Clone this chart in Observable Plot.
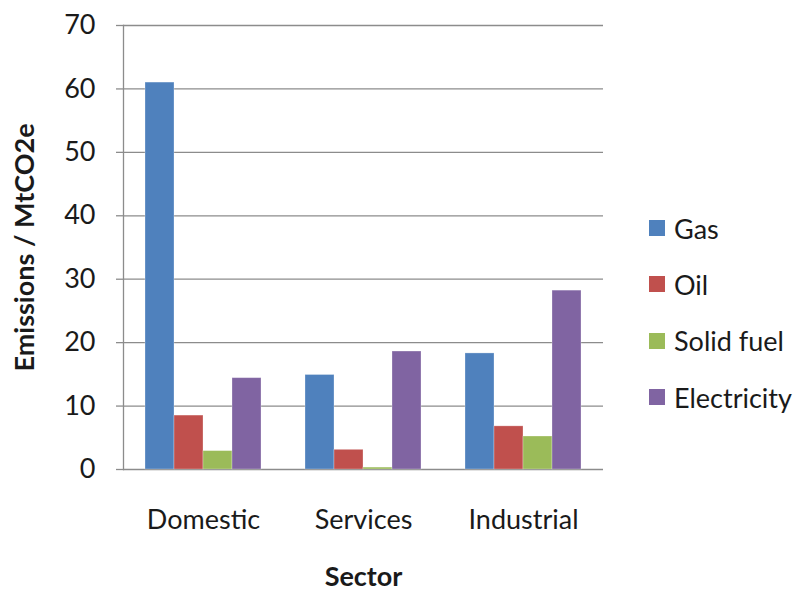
<!DOCTYPE html>
<html>
<head>
<meta charset="utf-8">
<script src="https://cdn.jsdelivr.net/npm/d3@7"></script>
<script src="https://cdn.jsdelivr.net/npm/@observablehq/plot@0.6"></script>
<style>
  html, body { margin: 0; padding: 0; background: #fff; }
  #wrap { position: relative; width: 795px; height: 593px; overflow: hidden; font-family: Lato, "Open Sans", sans-serif; }
  #legend { position: absolute; left: 649px; top: 200px; }
  .item { display: flex; align-items: center; height: 56.3px; font-size: 27px; color: #1a1a1a; white-space: nowrap; }
  .sw { width: 16px; height: 16px; margin-right: 9px; flex: none; }
</style>
</head>
<body>
<div id="wrap"></div>
<script>
const sectors = ["Domestic", "Services", "Industrial"];
const fuels = ["Gas", "Oil", "Solid fuel", "Electricity"];
const gas = [61.0, 14.9, 18.3];
const oil = [8.5, 3.1, 6.8];
const solidFuel = [2.9, 0.3, 5.2];
const electricity = [14.4, 18.6, 28.2];
const colors = ["#4F81BD", "#C0504D", "#9BBB59", "#8064A2"];
const yTicks = [0, 10, 20, 30, 40, 50, 60, 70];

const series = [gas, oil, solidFuel, electricity];
const data = [];
sectors.forEach((s, i) => fuels.forEach((f, j) => data.push({sector: s, fuel: f, value: series[j][i]})));

const gridColor = "#8c8c8c";
const chart = Plot.plot({
  width: 795,
  height: 593,
  marginLeft: 122,
  marginRight: 192,
  marginTop: 25,
  marginBottom: 124,
  style: {fontFamily: "Lato, 'Open Sans', sans-serif", color: "#1a1a1a", background: "#fff"},
  fx: {domain: sectors, padding: 0, axis: null},
  x: {domain: fuels, paddingInner: 0, paddingOuter: 0.74, axis: null},
  y: {domain: [0, 70], axis: null},
  color: {domain: fuels, range: colors},
  marks: [
    Plot.gridY(yTicks, {stroke: gridColor, strokeOpacity: 1, strokeWidth: 1.3}),
    Plot.barY(data, {fx: "sector", x: "fuel", y: "value", fill: "fuel", stroke: "#fff", strokeOpacity: 0.35, strokeWidth: 0.8}),
    Plot.frame({anchor: "left", facetAnchor: "left", stroke: gridColor, strokeWidth: 1.3}),
    Plot.axisY(yTicks, {
      tickSize: 7, tickPadding: 21, fontSize: 27, stroke: gridColor, strokeWidth: 1.3,
      label: "Emissions / MtCO2e", labelAnchor: "center", labelArrow: "none", labelOffset: 109
    }),
    Plot.axisFx({
      anchor: "bottom", tickSize: 0, tickPadding: 40, fontSize: 27,
      label: "Sector", labelAnchor: "center", labelArrow: "none", labelOffset: 116
    })
  ]
});
// bold axis titles
chart.querySelectorAll("g[aria-label='y-axis label'] text, g[aria-label='fx-axis label'] text").forEach(t => {
  t.style.fontWeight = "bold"; t.style.fontSize = "27px";
});
document.getElementById("wrap").appendChild(chart);

const legend = document.createElement("div");
legend.id = "legend";
fuels.forEach((f, j) => {
  const it = document.createElement("div");
  it.className = "item";
  const sw = document.createElement("span");
  sw.className = "sw";
  sw.style.background = colors[j];
  it.appendChild(sw);
  it.appendChild(document.createTextNode(f));
  legend.appendChild(it);
});
document.getElementById("wrap").appendChild(legend);
</script>
</body>
</html>
